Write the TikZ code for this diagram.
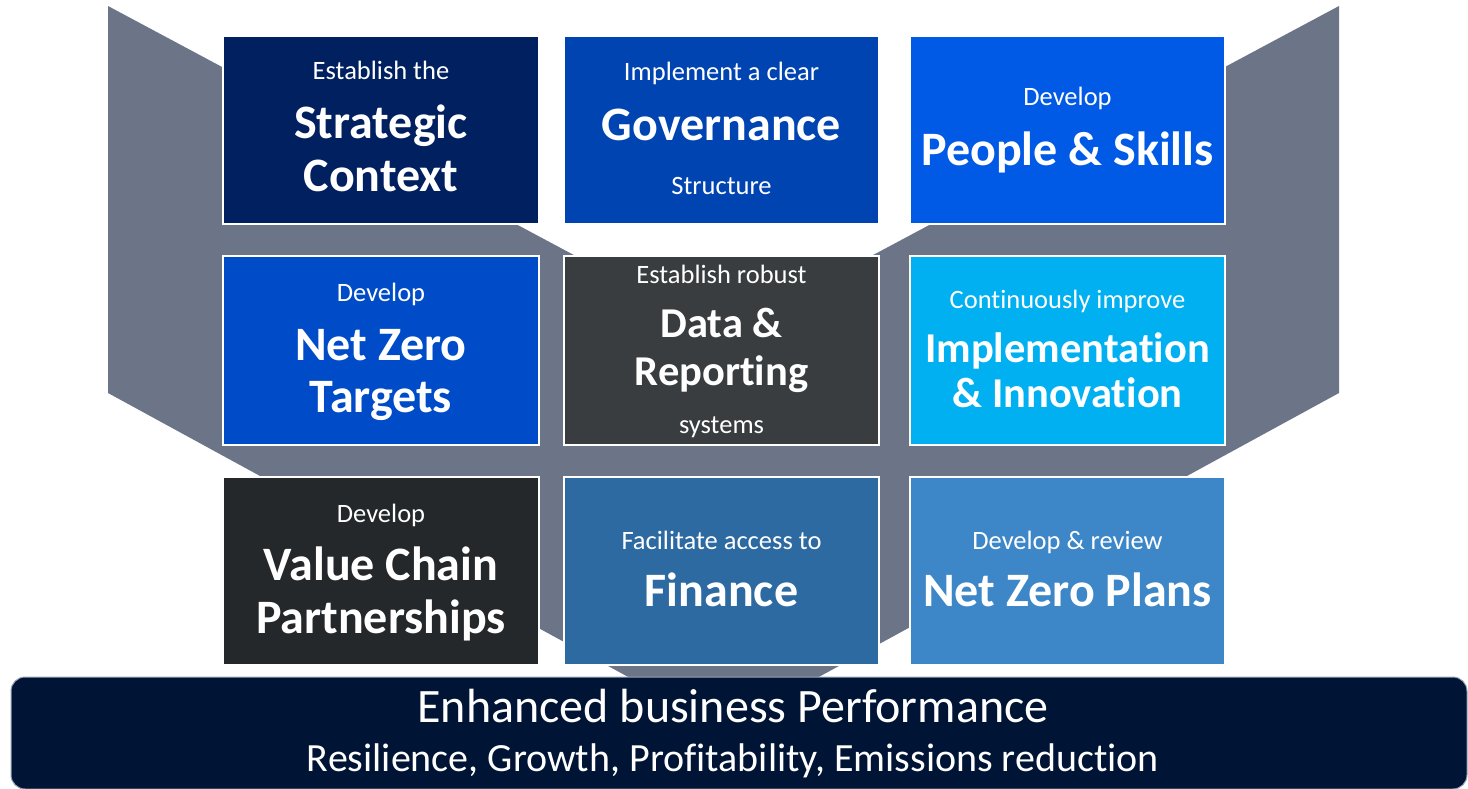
\documentclass[tikz,border=0pt]{standalone}
\usepackage{fontspec}
\setmainfont{Carlito}[Ligatures=NoCommon]
\definecolor{cA}{HTML}{002060}
\definecolor{cB}{HTML}{0044B2}
\definecolor{cC}{HTML}{005AE6}
\definecolor{cD}{HTML}{004CC8}
\definecolor{cE}{HTML}{393D40}
\definecolor{cF}{HTML}{00B0F0}
\definecolor{cG}{HTML}{25282B}
\definecolor{cH}{HTML}{2D6AA2}
\definecolor{cI}{HTML}{3D86C8}
\definecolor{funnelgray}{HTML}{6B7587}
\definecolor{barnavy}{HTML}{001435}
\definecolor{barline}{HTML}{9AA6B8}
\tikzset{
  tile/.style={draw=white, line width=2.5pt, inner sep=0pt},
  smalltxt/.style={text=white, anchor=base, inner sep=0pt, font=\fontsize{26.5}{31}\selectfont},
  bigtxt/.style={text=white, anchor=base, inner sep=0pt, font=\bfseries\fontsize{48}{52}\selectfont},
  midtxt/.style={text=white, anchor=base, inner sep=0pt, font=\bfseries\fontsize{42.5}{46}\selectfont},
  bartxtA/.style={text=white, anchor=base, inner sep=0pt, font=\fontsize{48}{53}\selectfont},
  bartxtB/.style={text=white, anchor=base, inner sep=0pt, font=\fontsize{40}{44}\selectfont},
}
\begin{document}
\begin{tikzpicture}[x=1pt,y=-1pt]
\useasboundingbox (0,0) rectangle (1468,789);
% funnel background
\fill[funnelgray] (108,6) -- (723.5,335) -- (1339,6) -- (1339,393) -- (723.5,729) -- (108,393) -- cycle;
% bottom bar
\node[draw=barline, line width=1pt, fill=barnavy, rounded corners=14pt, minimum width=1456pt, minimum height=112pt, inner sep=0pt] (bar) at (739,733) {};
% tiles
\node[tile, fill=cA, minimum width=316pt, minimum height=188pt] (t1) at (381,130) {};
\node[tile, fill=cB, minimum width=315pt, minimum height=188pt] (t2) at (721.5,130) {};
\node[tile, fill=cC, minimum width=315pt, minimum height=188pt] (t3) at (1067.5,130) {};
\node[tile, fill=cD, minimum width=316pt, minimum height=189pt] (t4) at (381,350.5) {};
\node[tile, fill=cE, minimum width=315pt, minimum height=189pt] (t5) at (721.5,350.5) {};
\node[tile, fill=cF, minimum width=315pt, minimum height=189pt] (t6) at (1067.5,350.5) {};
\node[tile, fill=cG, minimum width=316pt, minimum height=188pt] (t7) at (381,571) {};
\node[tile, fill=cH, minimum width=315pt, minimum height=188pt] (t8) at (721.5,571) {};
\node[tile, fill=cI, minimum width=315pt, minimum height=188pt] (t9) at (1067.5,571) {};
% texts box 1
\node[smalltxt] (t1a) at (381,80) {Establish the};
\node[bigtxt] (t1b) at (381,139) {Strategic};
\node[bigtxt] (t1c) at (381,192) {Context};
% box 2
\node[smalltxt] (t2a) at (721.5,81) {Implement a clear};
\node[bigtxt] (t2b) at (721.5,141) {Governance};
\node[smalltxt] (t2c) at (721.5,194) {Structure};
% box 3
\node[smalltxt] (t3a) at (1067.5,106) {Develop};
\node[bigtxt] (t3b) at (1067.5,166) {People \& Skills};
% box 4
\node[smalltxt] (t4a) at (381,301) {Develop};
\node[bigtxt] (t4b) at (381,360) {Net Zero};
\node[bigtxt] (t4c) at (381,412) {Targets};
% box 5
\node[smalltxt] (t5a) at (721.5,283) {Establish robust};
\node[midtxt] (t5b) at (721.5,337) {Data \&};
\node[midtxt] (t5c) at (721.5,385) {Reporting};
\node[smalltxt] (t5d) at (721.5,433) {systems};
% box 6
\node[smalltxt] (t6a) at (1067.5,308) {Continuously improve};
\node[midtxt] (t6b) at (1067.5,362) {Implementation};
\node[midtxt] (t6c) at (1067.5,407) {\& Innovation};
% box 7
\node[smalltxt] (t7a) at (381,522) {Develop};
\node[bigtxt] (t7b) at (381,580) {Value Chain};
\node[bigtxt] (t7c) at (381,633) {Partnerships};
% box 8
\node[smalltxt] (t8a) at (721.5,549) {Facilitate access to};
\node[bigtxt] (t8b) at (721.5,606) {Finance};
% box 9
\node[smalltxt] (t9a) at (1067.5,549) {Develop \& review};
\node[bigtxt] (t9b) at (1067.5,606) {Net Zero Plans};
% bar texts
\node[bartxtA] (b1) at (733,722) {Enhanced business Performance};
\node[bartxtB] (b2) at (733,771) {Resilience, Growth, Profitability, Emissions reduction};
\end{tikzpicture}
\end{document}
